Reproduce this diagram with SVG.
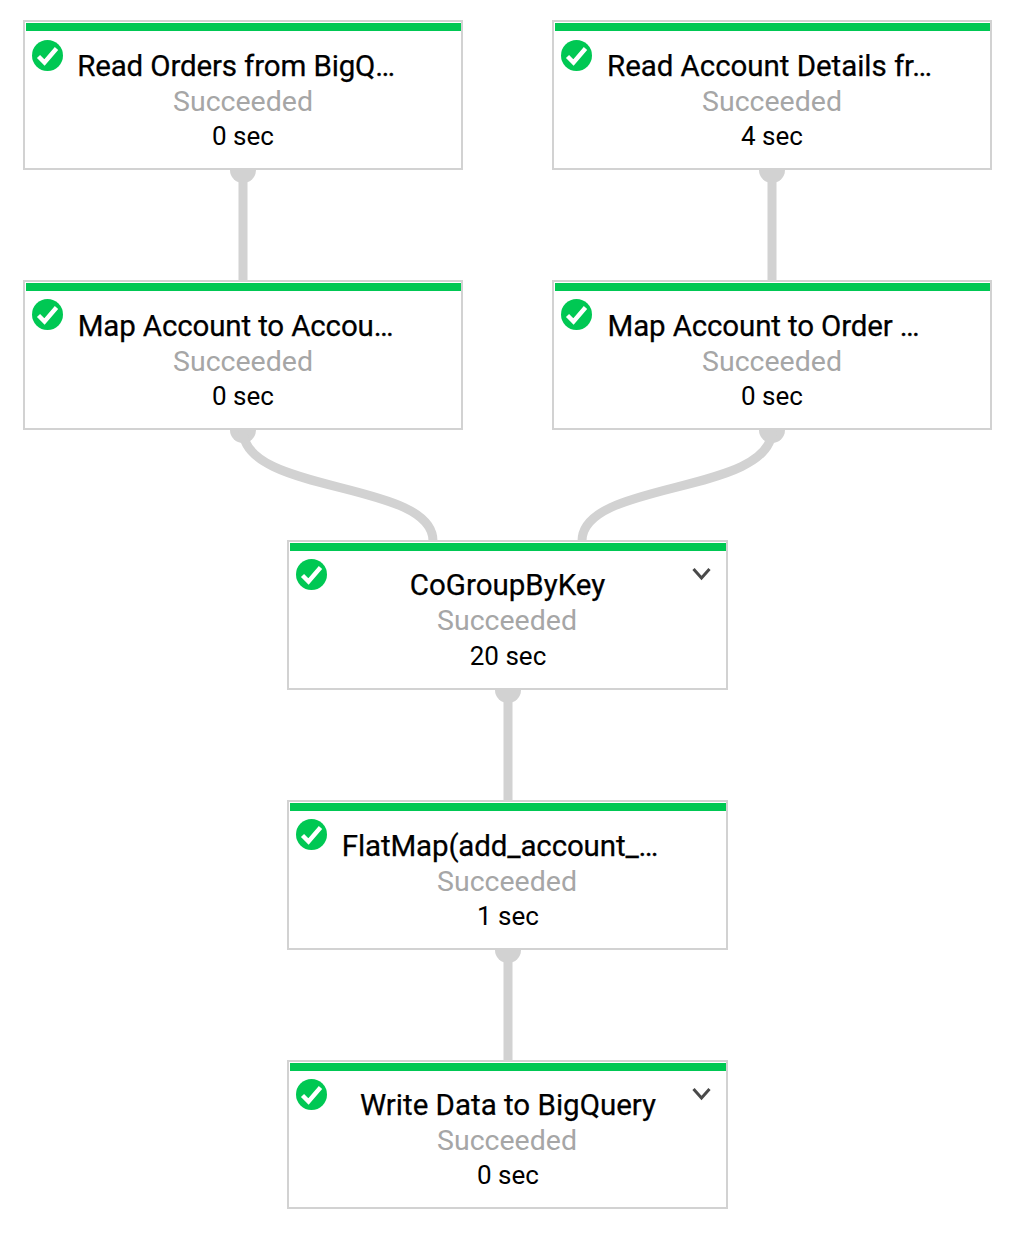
<svg xmlns="http://www.w3.org/2000/svg" width="1016" height="1242" viewBox="0 0 1016 1242">
<defs>
<style>
.box{fill:#fff;stroke:#d2d2d2;stroke-width:2}
.bar{fill:#00c853}
.t{font-family:Roboto,"Liberation Sans",sans-serif;text-anchor:middle}
.name{font-size:29.5px;fill:#000;font-weight:400;stroke:#000;stroke-width:.25}
.cut{letter-spacing:-.14px}
.st{font-size:28.500px;fill:#a6a6a6}
.dur{font-size:26px;fill:#000}
.edge{fill:none;stroke:#d2d2d2;stroke-width:9}
.cap{fill:#d2d2d2}
.chev{fill:none;stroke:#4a4a4a;stroke-width:3}
</style>
<g id="ok"><circle cx="0" cy="0" r="15.5" fill="#00c853"/><path d="M-9 1L-3 7L9 -7" fill="none" stroke="#fff" stroke-width="4.400"/></g>
</defs>
<g id="connectors">
<circle class="cap" cx="243" cy="170" r="13"/><circle class="cap" cx="772" cy="170" r="13"/>
<circle class="cap" cx="243" cy="430" r="13"/><circle class="cap" cx="772" cy="430" r="13"/>
<circle class="cap" cx="508" cy="690" r="13"/><circle class="cap" cx="508" cy="950" r="13"/>
<path class="edge" d="M243 170V281"/>
<path class="edge" d="M772 170V281"/>
<path class="edge" d="M243 430C243 495 433 480 433 541"/>
<path class="edge" d="M772 430C772 495 582 480 582 541"/>
<path class="edge" d="M508 690V801"/>
<path class="edge" d="M508 950V1061"/>
</g>
<g id="n1"><rect class="box" x="24" y="21" width="438" height="148"/><rect class="bar" x="26" y="23" width="435" height="8"/><use href="#ok" x="47.500" y="55.500"/><text class="t name cut" x="236" y="76">Read Orders from BigQ…</text><text class="t st" x="243" y="111">Succeeded</text><text class="t dur" x="243" y="145">0 sec</text></g>
<g id="n2"><rect class="box" x="553" y="21" width="438" height="148"/><rect class="bar" x="555" y="23" width="435" height="8"/><use href="#ok" x="576.500" y="55.500"/><text class="t name" style="letter-spacing:-.05px" x="769.500" y="76">Read Account Details fr…</text><text class="t st" x="772" y="111">Succeeded</text><text class="t dur" x="772" y="145">4 sec</text></g>
<g id="n3"><rect class="box" x="24" y="281" width="438" height="148"/><rect class="bar" x="26" y="283" width="435" height="8"/><use href="#ok" x="47.500" y="314.500"/><text class="t name cut" x="235.500" y="336">Map Account to Accou…</text><text class="t st" x="243" y="371">Succeeded</text><text class="t dur" x="243" y="405">0 sec</text></g>
<g id="n4"><rect class="box" x="553" y="281" width="438" height="148"/><rect class="bar" x="555" y="283" width="435" height="8"/><use href="#ok" x="576.500" y="314.500"/><text class="t name cut" x="763.500" y="336">Map Account to Order …</text><text class="t st" x="772" y="371">Succeeded</text><text class="t dur" x="772" y="405">0 sec</text></g>
<g id="n5"><rect class="box" x="288" y="541" width="439" height="148"/><rect class="bar" x="290" y="543" width="436" height="8"/><use href="#ok" x="311.500" y="574.500"/><text class="t name" x="507.500" y="595">CoGroupByKey</text><text class="t st" x="507" y="630">Succeeded</text><text class="t dur" x="508" y="665">20 sec</text><path class="chev" d="M693.500 569L701.500 578L709.500 569"/></g>
<g id="n6"><rect class="box" x="288" y="801" width="439" height="148"/><rect class="bar" x="290" y="803" width="436" height="8"/><use href="#ok" x="311.500" y="834.500"/><text class="t name cut" x="500" y="856">FlatMap(add_account_…</text><text class="t st" x="507" y="891">Succeeded</text><text class="t dur" x="508" y="925">1 sec</text></g>
<g id="n7"><rect class="box" x="288" y="1061" width="439" height="147"/><rect class="bar" x="290" y="1063" width="436" height="8"/><use href="#ok" x="311.500" y="1094.500"/><text class="t name" x="508" y="1115">Write Data to BigQuery</text><text class="t st" x="507" y="1150">Succeeded</text><text class="t dur" x="508" y="1184">0 sec</text><path class="chev" d="M693.500 1089L701.500 1098L709.500 1089"/></g>
</svg>
